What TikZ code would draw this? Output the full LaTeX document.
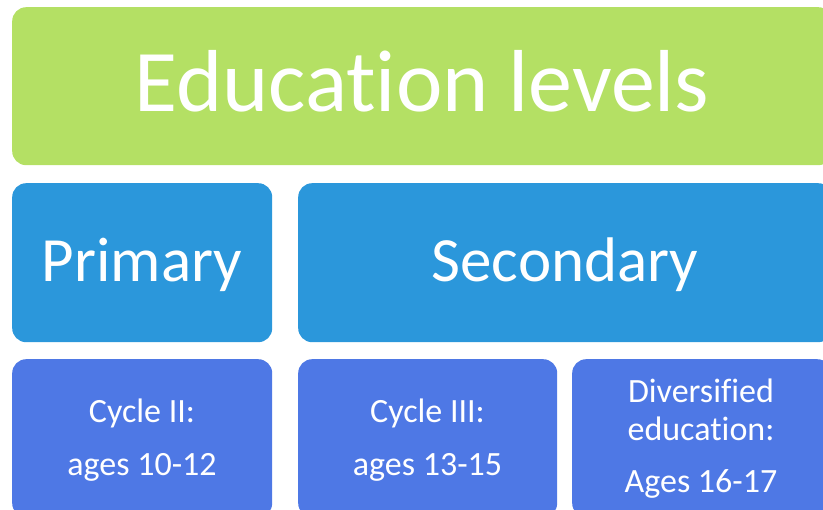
\documentclass[tikz,border=0pt]{standalone}
\usepackage{fontspec}
\setmainfont{Carlito}[Ligatures={NoCommon}]
\definecolor{cgreen}{HTML}{B4E064}
\definecolor{cblue}{HTML}{2B97DB}
\definecolor{cviolet}{HTML}{4E78E5}
\begin{document}
\begin{tikzpicture}[x=1pt,y=-1pt,
  box/.style={rounded corners=14pt, inner sep=0pt, anchor=north west, draw=none},
  txt/.style={text=white, anchor=base, inner sep=0pt},
  big/.style={txt, font=\fontsize{88}{100}\selectfont},
  mid/.style={txt, font=\fontsize{63}{72}\selectfont},
  small/.style={txt, font=\fontsize{34}{40}\selectfont}]
\useasboundingbox (0,0) rectangle (823,510);
\clip (0,0) rectangle (823,510);
% boxes
\node[box, fill=cgreen, minimum width=820pt, minimum height=158pt] (top) at (12,7) {};
\node[box, fill=cblue, minimum width=260pt, minimum height=159pt] (prim) at (12,183) {};
\node[box, fill=cblue, minimum width=534pt, minimum height=159pt] (sec) at (298,183) {};
\node[box, fill=cviolet, minimum width=260pt, minimum height=158pt] (c2) at (12,359) {};
\node[box, fill=cviolet, minimum width=259pt, minimum height=158pt] (c3) at (298,359) {};
\node[box, fill=cviolet, minimum width=259pt, minimum height=158pt] (div) at (572,359) {};
% texts
\node[big] (ttop) at (422,112) {Education levels};
\node[mid] (tprim) at (142,282) {Primary};
\node[mid] (tsec) at (565,282) {Secondary};
\node[small] (tc2a) at (142,423) {Cycle II:};
\node[small] (tc2b) at (142,476) {ages 10-12};
\node[small] (tc3a) at (427.5,423) {Cycle III:};
\node[small] (tc3b) at (427.5,476) {ages 13-15};
\node[small] (tda) at (701,403) {Diversified};
\node[small] (tdb) at (701,441) {education:};
\node[small] (tdc) at (701,493) {Ages 16-17};
\end{tikzpicture}
\end{document}
